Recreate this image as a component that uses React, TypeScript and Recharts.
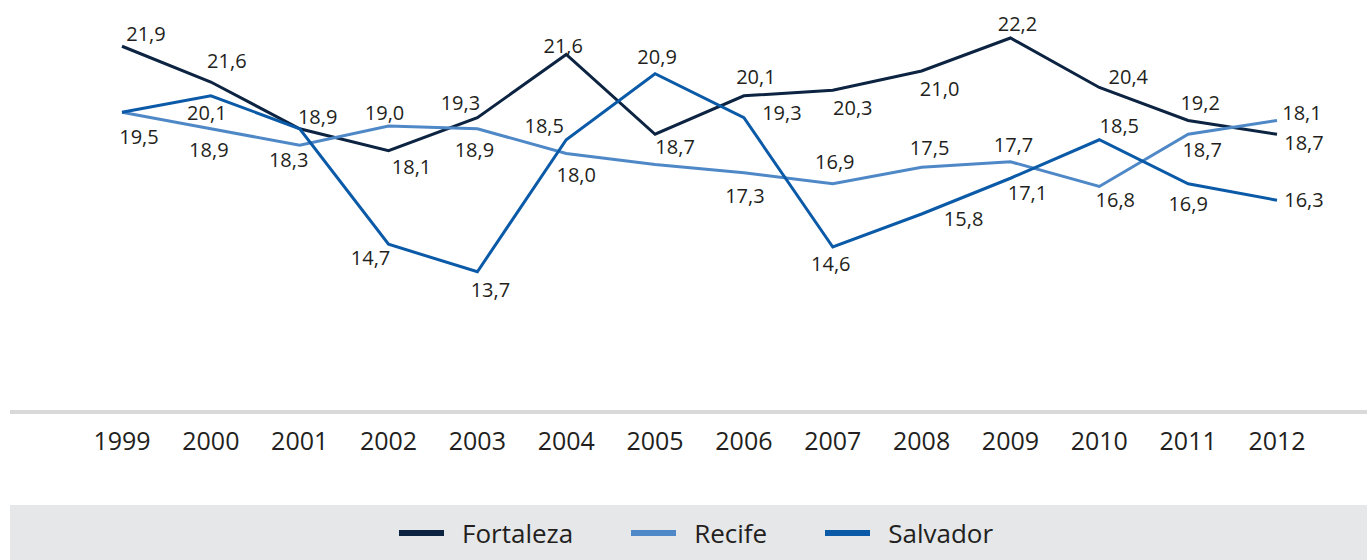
import { LineChart, Line, XAxis, YAxis, LabelList } from "recharts";

const years = ["1999", "2000", "2001", "2002", "2003", "2004", "2005", "2006", "2007", "2008", "2009", "2010", "2011", "2012"];

const fortaleza = [21.9, 20.6, 18.9, 18.1, 19.3, 21.6, 18.7, 20.1, 20.3, 21.0, 22.2, 20.4, 19.2, 18.7];
const recife = [19.5, 18.9, 18.3, 19.0, 18.9, 18.0, 17.6, 17.3, 16.9, 17.5, 17.7, 16.8, 18.7, 19.2];
const salvador = [19.5, 20.1, 18.9, 14.7, 13.7, 18.5, 20.9, 19.3, 14.6, 15.8, 17.1, 18.5, 16.9, 16.3];

// label texts as printed on the chart ("" = no label)
const fortalezaLabels = ["21,9", "21,6", "18,9", "18,1", "19,3", "21,6", "18,7", "20,1", "20,3", "21,0", "22,2", "20,4", "19,2", "18,7"];
const recifeLabels = ["19,5", "18,9", "18,3", "19,0", "18,9", "18,0", "", "17,3", "16,9", "17,5", "17,7", "16,8", "18,7", "18,1"];
const salvadorLabels = ["", "20,1", "", "14,7", "13,7", "18,5", "20,9", "19,3", "14,6", "15,8", "17,1", "18,5", "16,9", "16,3"];

// label nudges relative to each point
const fortalezaNudge = [[24, -13], [16, -22], [18, -12], [23, 16], [-17, -15], [-3, -9], [20, 12], [12, -19], [20, 17], [18, 17], [7, -15], [29, -11], [12, -18], [27, 8]];
const recifeNudge = [[17, 24], [-2, 21], [-11, 14], [-4, -14], [-3, 21], [10, 21], [0, 0], [1, 23], [2, -22], [8, -20], [3, -17], [16, 13], [14, 15], [25, -8]];
const salvadorNudge = [[0, 0], [-4, 17], [0, 0], [-18, 13], [13, 18], [-22, -14], [2, -17], [38, -5], [-2, 16], [42, 4], [17, 14], [20, -14], [0, 20], [27, -1]];

const FONT = "'Open Sans', sans-serif";
const TEXT = "#231f20";

const series = [
  { key: "Fortaleza", color: "#0c2442", labels: fortalezaLabels, nudge: fortalezaNudge },
  { key: "Recife", color: "#4f88c7", labels: recifeLabels, nudge: recifeNudge },
  { key: "Salvador", color: "#0b5aa8", labels: salvadorLabels, nudge: salvadorNudge },
];

const data = years.map((year, i) => ({
  year,
  Fortaleza: fortaleza[i],
  Recife: recife[i],
  Salvador: salvador[i],
}));

function pointLabel(labels: string[], nudge: number[][]) {
  return (props: any) => {
    const { x, y, index } = props;
    const text = labels[index];
    if (!text) return null;
    return (
      <text
        x={x + nudge[index][0]}
        y={y + nudge[index][1]}
        textAnchor="middle"
        dominantBaseline="central"
        fill={TEXT}
        fontSize={20}
        fontFamily={FONT}
      >
        {text}
      </text>
    );
  };
}

function YearTick(props: any) {
  const { x, y, payload } = props;
  return (
    <text x={x} y={y + 26} textAnchor="middle" dominantBaseline="central" fill={TEXT} fontSize={25} fontFamily={FONT}>
      {payload.value}
    </text>
  );
}

export default function App() {
  return (
    <div style={{ position: "absolute", left: 0, top: 0, width: 1367, height: 560, background: "#fff" }}>
      <LineChart width={1367} height={560} data={data} margin={{ top: 16, right: 0, left: 10, bottom: 88 }}>
        <XAxis
          dataKey="year"
          height={60}
          padding={{ left: 112, right: 90 }}
          axisLine={{ stroke: "#d9d9d9", strokeWidth: 4 }}
          tickLine={false}
          tickSize={0}
          tick={<YearTick />}
          interval={0}
        />
        <YAxis hide domain={[9, 23]} padding={{ top: 0, bottom: 11 }} />
        {series.map((s) => (
          <Line
            key={s.key}
            type="linear"
            dataKey={s.key}
            stroke={s.color}
            strokeWidth={3}
            dot={false}
            activeDot={false}
            isAnimationActive={false}
          >
            <LabelList dataKey={s.key} content={pointLabel(s.labels, s.nudge)} />
          </Line>
        ))}
      </LineChart>
      <div
        style={{
          position: "absolute",
          left: 10,
          top: 505,
          width: 1357,
          height: 55,
          background: "#e6e7e9",
          display: "flex",
          alignItems: "center",
          paddingLeft: 389,
          boxSizing: "border-box",
          fontFamily: FONT,
          fontSize: 26,
          color: TEXT,
        }}
      >
        {series.map((s) => (
          <div key={s.key} style={{ display: "flex", alignItems: "center", marginRight: 58 }}>
            <span style={{ display: "inline-block", width: 45, height: 6, background: s.color, marginRight: 18 }} />
            <span>{s.key}</span>
          </div>
        ))}
      </div>
    </div>
  );
}
